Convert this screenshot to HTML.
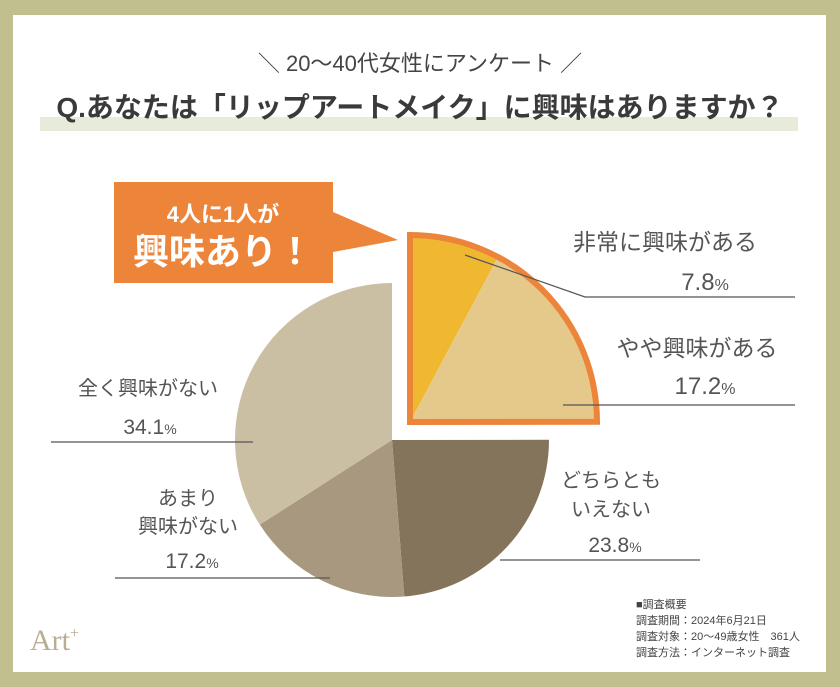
<!DOCTYPE html>
<html><head><meta charset="utf-8">
<style>
html,body{margin:0;padding:0}
body{width:840px;height:687px;background:#c2bf8f;position:relative;overflow:hidden;font-family:"Liberation Sans","Noto Sans CJK JP",sans-serif}
#panel{position:absolute;left:13px;top:15px;width:813px;height:657px;background:#fff}
svg{position:absolute;left:0;top:0}
</style></head><body>
<div id="panel"></div>
<svg id="chart" width="840" height="687">
<rect x="40" y="117" width="758" height="14" fill="#e6ecd9"/>
<text x="420" y="71" text-anchor="middle" font-size="22" fill="#444">＼ 20〜40代女性にアンケート ／</text>
<text x="420" y="117" text-anchor="middle" font-size="28" font-weight="bold" fill="#3a3a3a">Q.あなたは「リップアートメイク」に興味はありますか？</text>
<g id="slices"></g>
<path d="M333 212 L398 240 L333 252 Z" fill="#ec843a"/>
<rect x="114" y="182" width="219" height="101" fill="#ec843a"/>
<text x="223" y="222" text-anchor="middle" font-size="22" font-weight="bold" fill="#fff">4人に1人が</text>
<text x="223" y="264" text-anchor="middle" font-size="36" font-weight="bold" fill="#fff">興味あり！</text>
<g fill="none" stroke="#555" stroke-width="1.2">
<polyline points="465,255 585,297 795,297"/>
<polyline points="563,405 795,405"/>
<polyline points="500,560 700,560"/>
<polyline points="51,442 253,442"/>
<polyline points="115,578 330,578"/>
</g>
<g fill="#555" font-size="23">
<text x="665" y="250" text-anchor="middle">非常に興味がある</text>
<text x="705" y="290" text-anchor="middle" font-size="24">7.8<tspan font-size="16">%</tspan></text>
<text x="697" y="356" text-anchor="middle">やや興味がある</text>
<text x="705" y="394" text-anchor="middle" font-size="24">17.2<tspan font-size="16">%</tspan></text>
<text x="611" y="487" text-anchor="middle" font-size="20">どちらとも</text>
<text x="611" y="516" text-anchor="middle" font-size="20">いえない</text>
<text x="615" y="552" text-anchor="middle" font-size="21">23.8<tspan font-size="14">%</tspan></text>
<text x="148" y="395" text-anchor="middle" font-size="20">全く興味がない</text>
<text x="150" y="434" text-anchor="middle" font-size="21">34.1<tspan font-size="14">%</tspan></text>
<text x="188" y="505" text-anchor="middle" font-size="20">あまり</text>
<text x="188" y="533" text-anchor="middle" font-size="20">興味がない</text>
<text x="192" y="568" text-anchor="middle" font-size="21">17.2<tspan font-size="14">%</tspan></text>
</g>
<text x="30" y="650" font-family="Liberation Serif,serif" font-size="30" fill="#b9ad94">Art<tspan font-size="16" dy="-12">+</tspan></text>
<g fill="#444" font-size="11">
<text x="636" y="608">■調査概要</text>
<text x="636" y="624">調査期間：2024年6月21日</text>
<text x="636" y="640">調査対象：20〜49歳女性　361人</text>
<text x="636" y="656">調査方法：インターネット調査</text>
</g>
</svg>
<script>
const categories = ["非常に興味がある","やや興味がある","どちらともいえない","あまり興味がない","全く興味がない"];
const values = [7.8, 17.2, 23.8, 17.2, 34.1];
const explodedCount = 2;
const colors = ["#f0b830","#e5c98b","#85745c","#a8987f","#cbbfa3"];
const total = values.reduce((a,b)=>a+b,0);
const ns="http://www.w3.org/2000/svg";
const g=document.getElementById('slices');
function pt(cx,cy,r,a){return [cx+r*Math.sin(a),cy-r*Math.cos(a)];}
let start=0;
const explodedGroup=document.createElementNS(ns,'g');
for(let i=0;i<values.length;i++){
  const sweep=values[i]/total*2*Math.PI;
  const ex=i<explodedCount;
  const cx=ex?410:392, cy=ex?422:440, r=ex?187:157;
  const p1=pt(cx,cy,r,start), p2=pt(cx,cy,r,start+sweep);
  const large=sweep>Math.PI?1:0;
  const path=document.createElementNS(ns,'path');
  path.setAttribute('d',`M${cx} ${cy} L${p1[0]} ${p1[1]} A${r} ${r} 0 ${large} 1 ${p2[0]} ${p2[1]} Z`);
  path.setAttribute('fill',colors[i]);
  
  
  g.appendChild(path);
  start+=sweep;
}
// outline around exploded group
let exSum=0;for(let i=0;i<explodedCount;i++)exSum+=values[i];
const eA=exSum/total*2*Math.PI;
const q1=pt(410,422,187,0),q2=pt(410,422,187,eA);
const outline=document.createElementNS(ns,'path');
outline.setAttribute('d',`M410 422 L${q1[0]} ${q1[1]} A187 187 0 ${eA>Math.PI?1:0} 1 ${q2[0]} ${q2[1]} Z`);
outline.setAttribute('fill','none');
outline.setAttribute('stroke','#ec843a');
outline.setAttribute('stroke-width','6');


g.appendChild(outline);
</script>
</body></html>
